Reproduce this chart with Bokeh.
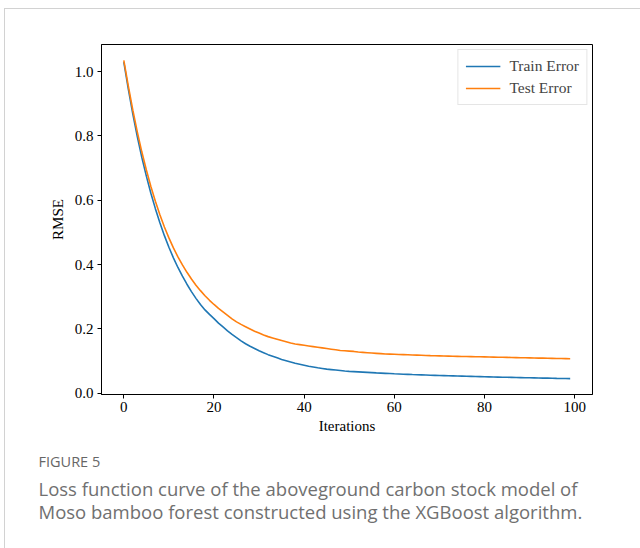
from bokeh.plotting import figure
from bokeh.models import (Range1d, FixedTicker, Legend, LegendItem, Title,
                          InlineStyleSheet)
from bokeh.embed import file_html
from bokeh.resources import INLINE

# Boosting rounds and RMSE per round
iterations = list(range(100))

train_error = [
    1.030, 0.946, 0.868, 0.797, 0.733, 0.675, 0.622, 0.574, 0.530, 0.490,
    0.454, 0.421, 0.391, 0.364, 0.339, 0.316, 0.295, 0.276, 0.259, 0.245,
    0.232, 0.218, 0.206, 0.194, 0.183, 0.173, 0.163, 0.154, 0.146, 0.139,
    0.132, 0.126, 0.120, 0.115, 0.110, 0.105, 0.101, 0.097, 0.093, 0.090,
    0.087, 0.084, 0.0815, 0.079, 0.077, 0.075, 0.0735, 0.072, 0.0705, 0.069,
    0.068, 0.0672, 0.0664, 0.0656, 0.0648, 0.0640, 0.0632, 0.0625, 0.0618, 0.0611,
    0.0604, 0.0598, 0.0592, 0.0586, 0.0580, 0.0575, 0.0570, 0.0565, 0.0560, 0.0556,
    0.0552, 0.0548, 0.0544, 0.0540, 0.0536, 0.0532, 0.0528, 0.0524, 0.0520, 0.0516,
    0.0512, 0.0508, 0.0504, 0.0501, 0.0498, 0.0495, 0.0492, 0.0489, 0.0486, 0.0483,
    0.0480, 0.0477, 0.0474, 0.0471, 0.0468, 0.0465, 0.0462, 0.0460, 0.0458, 0.0455,
]

test_error = [
    1.035, 0.955, 0.880, 0.812, 0.750, 0.694, 0.643, 0.597, 0.555, 0.517,
    0.483, 0.452, 0.424, 0.399, 0.376, 0.355, 0.336, 0.319, 0.303, 0.289,
    0.276, 0.264, 0.253, 0.242, 0.231, 0.222, 0.214, 0.207, 0.200, 0.193,
    0.187, 0.181, 0.176, 0.172, 0.168, 0.164, 0.160, 0.156, 0.153, 0.151,
    0.149, 0.147, 0.145, 0.143, 0.141, 0.139, 0.137, 0.135, 0.133, 0.132,
    0.131, 0.130, 0.128, 0.127, 0.126, 0.125, 0.124, 0.123, 0.122, 0.1215,
    0.121, 0.1205, 0.120, 0.1195, 0.119, 0.1185, 0.118, 0.1175, 0.117, 0.1166,
    0.1162, 0.1158, 0.1154, 0.1150, 0.1147, 0.1144, 0.1141, 0.1138, 0.1135, 0.1132,
    0.1129, 0.1126, 0.1123, 0.1120, 0.1117, 0.1114, 0.1111, 0.1108, 0.1105, 0.1102,
    0.1099, 0.1096, 0.1093, 0.1090, 0.1087, 0.1084, 0.1081, 0.1078, 0.1076, 0.1074,
]

x_ticks = [0, 20, 40, 60, 80, 100]
y_ticks = [0.0, 0.2, 0.4, 0.6, 0.8, 1.0]
y_tick_labels = ["0.0", "0.2", "0.4", "0.6", "0.8", "1.0"]

series_names = ["Train Error", "Test Error"]
series_colors = ["#1f77b4", "#ff7f0e"]

caption_title = "FIGURE 5"
caption_lines = [
    "Loss function curve of the aboveground carbon stock model of",
    "Moso bamboo forest constructed using the XGBoost algorithm.",
]

# 5% padding on each side of the data, as in a default pyplot axes
x_lo, x_hi = min(iterations), max(iterations)
x_pad = 0.05 * (x_hi - x_lo)
all_y = train_error + test_error
y_lo, y_hi = min(all_y), max(all_y)
y_pad = 0.05 * (y_hi - y_lo)

SERIF = "Liberation Serif"
SANS = "Open Sans"

# light card outline along the left and top of the page
card_css = InlineStyleSheet(css="""
:host::after {
  content: "";
  position: absolute;
  left: 4px; top: 7.5px; width: 700px; height: 700px;
  border-left: 1.5px solid #d2d2d2;
  border-top: 1.5px solid #d2d2d2;
  pointer-events: none;
  z-index: 10;
}
""")

p = figure(
    width=640, height=548,
    output_backend="svg", toolbar_location=None,
    x_range=Range1d(x_lo - x_pad, x_hi + x_pad),
    y_range=Range1d(y_lo - y_pad, y_hi + y_pad),
    min_border_left=101, min_border_right=48,
    min_border_top=44, min_border_bottom=154,
    stylesheets=[card_css],
)
p.background_fill_color = "white"
p.border_fill_color = "white"
p.outline_line_color = "black"
p.outline_line_width = 1
p.xgrid.visible = False
p.ygrid.visible = False

for ax in (p.xaxis[0], p.yaxis[0]):
    ax.axis_line_color = "black"
    ax.major_tick_line_color = "black"
    ax.major_tick_in = 0
    ax.major_tick_out = 4
    ax.minor_tick_line_color = None
    ax.major_label_text_font = SERIF
    ax.major_label_text_font_size = "15px"
    ax.major_label_text_color = "black"
    ax.axis_label_text_font = SERIF
    ax.axis_label_text_font_size = "15px"
    ax.axis_label_text_font_style = "normal"
    ax.axis_label_text_color = "black"

p.xaxis.ticker = FixedTicker(ticks=x_ticks)
p.yaxis.ticker = FixedTicker(ticks=y_ticks)
p.yaxis.major_label_overrides = dict(zip(y_ticks, y_tick_labels))
p.xaxis.axis_label = "Iterations"
p.yaxis.axis_label = "RMSE"
p.xaxis.major_label_standoff = 3
p.yaxis.major_label_standoff = 4
p.xaxis.axis_label_standoff = 3
p.yaxis.axis_label_standoff = 6

renderers = []
for ys, color in zip([train_error, test_error], series_colors):
    r = p.line(iterations, ys, line_color=color, line_width=1.6)
    renderers.append(r)

legend = Legend(
    items=[LegendItem(label=n, renderers=[r]) for n, r in zip(series_names, renderers)],
    location="top_right",
)
legend.margin = 5
legend.padding = 7
legend.spacing = 4
legend.glyph_width = 35
legend.glyph_height = 18
legend.label_height = 18
legend.label_standoff = 9
legend.label_text_font = SERIF
legend.label_text_font_size = "15.5px"
legend.border_line_color = "#cccccc"
legend.border_line_width = 1
legend.background_fill_alpha = 0.8
p.add_layout(legend, "center")

# caption below the plot, one title per line
p.add_layout(Title(
    text=caption_title, align="left", offset=-63, standoff=27,
    text_font=SANS, text_font_size="14.5px", text_font_style="normal",
    text_color="#666666",
), "below")
for line, gap in zip(caption_lines, [-21, 12.5]):
    p.add_layout(Title(
        text=line, align="left", offset=-63, standoff=gap,
        text_font=SANS, text_font_size="18.5px", text_font_style="normal",
        text_color="#707070",
    ), "below")

open("out.html", "w").write(file_html(p, INLINE))
